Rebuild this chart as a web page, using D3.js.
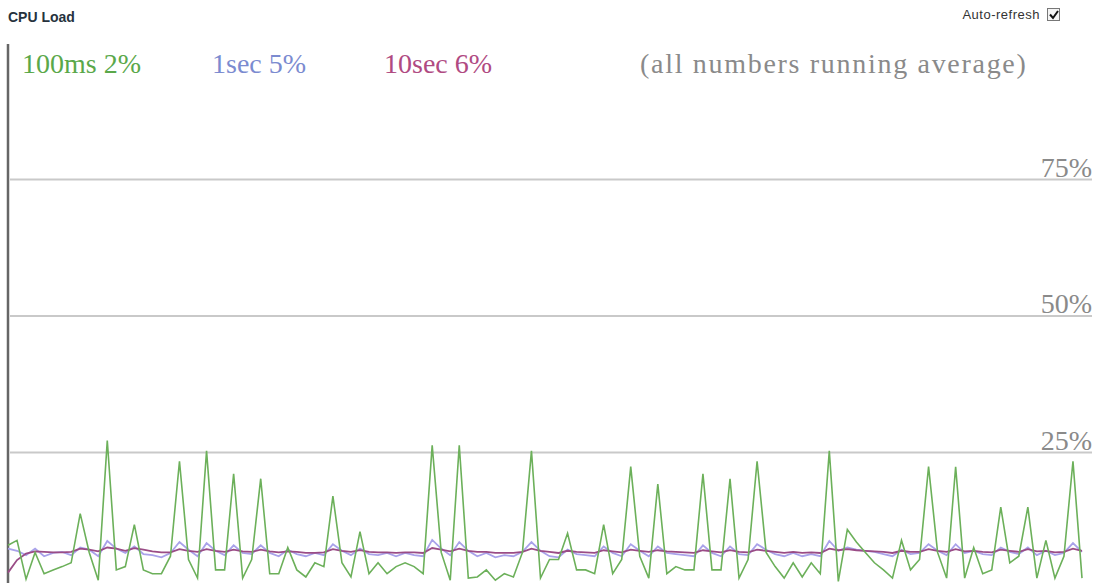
<!DOCTYPE html>
<html>
<head>
<meta charset="utf-8">
<script src="https://cdn.jsdelivr.net/npm/d3@7"></script>
<style>
  html, body { margin: 0; padding: 0; background: #fff; }
  svg { display: block; }
</style>
</head>
<body>
<svg id="chart" width="1102" height="583"></svg>
<script>
// CPU load samples (percent), one per tick
const load100ms = [
  8.0, 8.9, 1.8, 6.7, 2.8, 3.5, 4.1, 4.8, 13.8, 6.7,
  1.6, 27.2, 3.5, 4.1, 11.8, 3.5, 2.8, 2.8, 6.0, 23.4,
  5.4, 2.0, 25.3, 3.5, 3.5, 21.1, 2.0, 5.4, 20.2, 2.8,
  2.8, 7.6, 3.5, 2.2, 4.8, 4.1, 17.0, 4.8, 2.2, 10.5,
  2.8, 4.8, 2.8, 4.1, 4.8, 4.1, 2.8, 26.3, 6.7, 1.6,
  26.3, 2.0, 2.2, 3.5, 1.6, 2.8, 2.2, 6.7, 25.3, 2.0,
  5.4, 5.4, 10.2, 3.5, 3.5, 2.8, 11.8, 2.8, 5.4, 22.4,
  6.0, 2.0, 19.2, 2.8, 4.1, 3.5, 3.5, 21.1, 3.5, 3.5,
  20.2, 2.0, 5.4, 23.4, 6.7, 4.1, 2.0, 4.8, 2.2, 4.8,
  2.8, 25.3, 1.4, 10.9, 8.6, 6.7, 4.8, 3.5, 2.0, 8.9,
  3.5, 5.4, 22.4, 6.7, 2.0, 22.4, 2.0, 7.6, 2.8, 3.5,
  15.0, 4.8, 6.0, 15.0, 2.0, 8.9, 2.0, 6.0, 23.4, 2.0
];
const load1sec = [
  7.4, 7.0, 6.2, 7.4, 6.0, 6.6, 6.8, 6.2, 7.6, 7.2,
  6.0, 8.8, 7.4, 6.6, 7.8, 6.4, 6.2, 5.8, 6.6, 8.6,
  7.2, 6.0, 8.4, 7.0, 6.2, 8.0, 6.6, 6.4, 8.0, 6.6,
  6.0, 7.2, 6.4, 6.0, 6.6, 6.2, 8.2, 7.0, 6.2, 7.4,
  6.4, 6.2, 6.6, 6.0, 6.6, 6.2, 6.0, 9.0, 7.4, 6.2,
  8.6, 7.0, 6.0, 6.6, 5.8, 6.2, 6.0, 6.8, 8.6, 7.0,
  6.0, 5.8, 7.2, 6.4, 6.2, 6.0, 7.8, 6.6, 6.0, 8.2,
  7.0, 6.0, 7.8, 6.6, 6.4, 6.2, 6.0, 8.0, 6.6, 6.0,
  7.8, 6.4, 6.2, 8.2, 7.2, 6.4, 6.0, 6.6, 6.0, 6.4,
  6.0, 8.8, 7.0, 7.6, 7.2, 7.0, 6.8, 6.4, 6.0, 7.2,
  6.4, 6.6, 8.2, 7.0, 6.2, 8.2, 6.6, 7.0, 6.4, 6.2,
  7.6, 6.8, 6.4, 7.6, 6.2, 7.0, 6.2, 6.6, 8.4, 6.8
];
const load10sec = [
  3.0, 5.3, 6.5, 6.9, 6.8, 6.7, 6.7, 6.8, 7.4, 7.2,
  6.9, 7.6, 7.4, 7.0, 7.5, 7.2, 6.9, 6.7, 6.7, 7.3,
  7.0, 6.8, 7.3, 7.0, 6.8, 7.2, 6.9, 6.8, 7.2, 6.9,
  6.7, 6.9, 6.8, 6.6, 6.6, 6.7, 7.3, 7.0, 6.8, 7.1,
  6.8, 6.7, 6.7, 6.6, 6.7, 6.7, 6.6, 7.5, 7.2, 6.9,
  7.4, 7.0, 6.8, 6.8, 6.6, 6.6, 6.6, 6.8, 7.4, 7.0,
  6.8, 6.6, 7.0, 6.8, 6.7, 6.6, 7.1, 6.9, 6.7, 7.2,
  7.0, 6.8, 7.1, 6.9, 6.8, 6.7, 6.6, 7.1, 6.9, 6.7,
  7.1, 6.8, 6.7, 7.2, 7.0, 6.8, 6.6, 6.8, 6.6, 6.7,
  6.6, 7.4, 7.1, 7.3, 7.1, 7.0, 6.9, 6.8, 6.6, 7.0,
  6.8, 6.8, 7.3, 7.0, 6.8, 7.3, 6.9, 7.0, 6.8, 6.7,
  7.2, 7.0, 6.8, 7.3, 6.9, 7.0, 6.7, 6.8, 7.4, 7.0
];

const legendLabels = ["100ms 2%", "1sec 5%", "10sec 6%"];
const legendNote = "(all numbers running average)";
const gridTicks = [25, 50, 75];

const svg = d3.select("#chart");

const x = d3.scaleLinear().domain([0, load100ms.length - 1]).range([8, 1082]);
const y = d3.scaleLinear().domain([0, 100]).range([589, 43]);

// title + auto-refresh box
svg.append("text")
  .attr("x", 8).attr("y", 22)
  .style("font", "bold 14px 'Liberation Sans', Arial, sans-serif")
  .style("fill", "#26323d")
  .text("CPU Load");

svg.append("text")
  .attr("x", 1040).attr("y", 19)
  .attr("text-anchor", "end")
  .style("font", "13px 'Liberation Sans', Arial, sans-serif")
  .style("letter-spacing", "0.5px")
  .style("fill", "#333")
  .text("Auto-refresh");

svg.append("rect")
  .attr("x", 1047.5).attr("y", 8.5).attr("width", 12).attr("height", 12)
  .attr("fill", "#f4f4f4").attr("stroke", "#777");
svg.append("path")
  .attr("d", "M1050,14.5 L1053,18 L1058,11")
  .attr("fill", "none").attr("stroke", "#111").attr("stroke-width", 2);

// gridlines with labels on the right
const grid = svg.append("g");
gridTicks.forEach(t => {
  grid.append("line")
    .attr("x1", 10).attr("x2", 1092)
    .attr("y1", y(t)).attr("y2", y(t))
    .attr("stroke", "#c9c9c9").attr("stroke-width", 2);
  grid.append("text")
    .attr("x", 1092).attr("y", y(t) - 3)
    .attr("text-anchor", "end")
    .style("font", "28px 'Liberation Serif', 'Times New Roman', serif")
    .style("fill", "#8a8a8a")
    .text(t + "%");
});

// left edge
svg.append("line")
  .attr("x1", 8).attr("x2", 8).attr("y1", 44).attr("y2", 583)
  .attr("stroke", "#666").attr("stroke-width", 2.5);

// legend row
const legendX = [22, 212, 384];
const legendColors = ["#5aa84a", "#7b8bd0", "#b04a82"];
legendLabels.forEach((l, i) => {
  svg.append("text")
    .attr("x", legendX[i]).attr("y", 73)
    .style("font", "28px 'Liberation Serif', 'Times New Roman', serif")
    .style("fill", legendColors[i])
    .text(l);
});
svg.append("text")
  .attr("x", 640).attr("y", 73)
  .style("font", "28px 'Liberation Serif', 'Times New Roman', serif")
  .style("letter-spacing", "1.7px")
  .style("fill", "#8a8a8a")
  .text(legendNote);

// series
const line = d3.line().x((d, i) => x(i)).y(d => y(d));
svg.append("path").datum(load1sec)
  .attr("d", line).attr("fill", "none")
  .attr("stroke", "#a9a2ea").attr("stroke-width", 1.8);
svg.append("path").datum(load10sec)
  .attr("d", line).attr("fill", "none")
  .attr("stroke", "#9a4c86").attr("stroke-width", 1.8);
svg.append("path").datum(load100ms)
  .attr("d", line).attr("fill", "none")
  .attr("stroke", "#6cb05a").attr("stroke-width", 1.6);
</script>
</body>
</html>
